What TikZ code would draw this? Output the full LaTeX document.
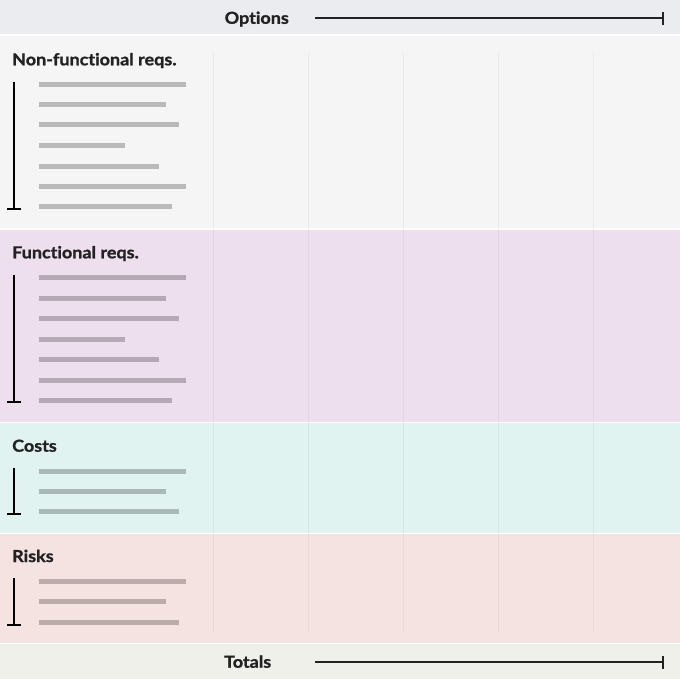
\documentclass[tikz,border=0pt]{standalone}
\usepackage{fontspec}
\setmainfont{Lato}[UprightFont=* Bold, FakeStretch=1.09, FakeBold=1.2, Ligatures=NoCommon]
\definecolor{topband}{HTML}{EBECF0}
\definecolor{nfband}{HTML}{F5F5F5}
\definecolor{fband}{HTML}{EEDFEF}
\definecolor{cband}{HTML}{E0F3F1}
\definecolor{rband}{HTML}{F5E3E2}
\definecolor{tband}{HTML}{F0F0EB}
\definecolor{ink}{HTML}{222222}
\begin{document}
\begin{tikzpicture}[x=1pt,y=-1pt,
  title/.style={anchor=base west,inner sep=0pt,font=\fontsize{16.5}{18}\selectfont,text=ink},
  bar/.style={line width=5pt,black,opacity=0.24},
  bracket/.style={line width=2pt,black},
  colline/.style={line width=1pt,black,opacity=0.045},
  rangeline/.style={line width=2pt,ink}]
\useasboundingbox (0,0) rectangle (680,679);
\fill[white] (0,0) rectangle (680,679);
\fill[topband] (0,0) rectangle (680,34.5);
\fill[nfband] (0,36) rectangle (680,228.5);
\fill[fband] (0,230) rectangle (680,421.5);
\fill[cband] (0,423) rectangle (680,532.5);
\fill[rband] (0,534) rectangle (680,642.5);
\fill[tband] (0,644) rectangle (680,679);
% column lines
\foreach \x in {213,308,403,498,593} \draw[colline] (\x,52) -- (\x,633);
% header / footer
\node[title] (opt) at (224.5,23.8) {Options};
\coordinate (oa) at (315,18.5); \coordinate (ob) at (663,18.5);
\draw[rangeline] (oa) -- (ob);
\draw[rangeline] (663,12) -- (663,25);
\node[title] (tot) at (224,667.7) {Totals};
\coordinate (ta) at (315,662); \coordinate (tb) at (663,662);
\draw[rangeline] (ta) -- (tb);
\draw[rangeline] (663,655.5) -- (663,668.5);
% section titles
\node[title] (nf) at (12,65.3) {Non-functional reqs.};
\node[title] (fr) at (12,258.3) {Functional reqs.};
\node[title] (co) at (12,451.7) {Costs};
\node[title] (ri) at (12,562) {Risks};
% brackets
\foreach \a/\b in {82/209.3, 275/402.3, 468/514, 578/624.5}{
  \draw[bracket] (14,\a) -- (14,\b);
  \draw[bracket] (7,\b) -- (20.7,\b);
}
% bars
\foreach \y/\r in {84.3/186,104.7/165.7,125/179.3,145.5/125,166.2/158.7,186.6/186,207/172.3}
  \draw[bar] (39,\y) -- (\r,\y);
\foreach \y/\r in {277.7/186,298/165.7,318.3/179.3,339/125,359.3/158.7,380/186,400.3/172.3}
  \draw[bar] (39,\y) -- (\r,\y);
\foreach \y/\r in {471/186,491.3/165.7,511.7/179.3}
  \draw[bar] (39,\y) -- (\r,\y);
\foreach \y/\r in {581.3/186,601.7/165.7,622/179.3}
  \draw[bar] (39,\y) -- (\r,\y);
\end{tikzpicture}
\end{document}
